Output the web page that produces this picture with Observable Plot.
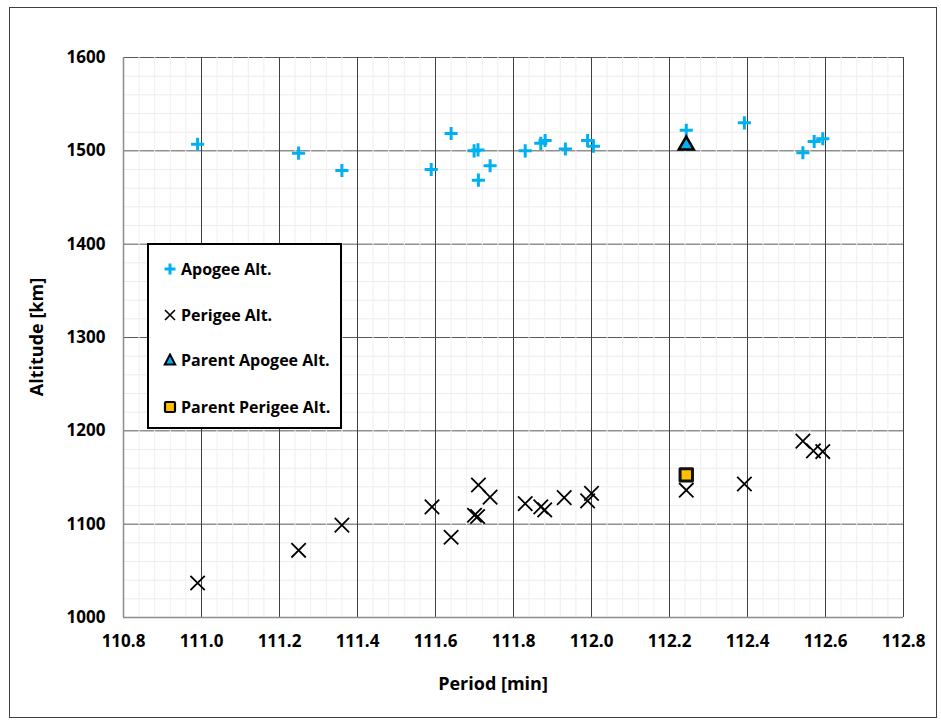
<!DOCTYPE html>
<html>
<head>
<meta charset="utf-8">
<script src="https://cdn.jsdelivr.net/npm/d3@7"></script>
<script src="https://cdn.jsdelivr.net/npm/@observablehq/plot@0.6"></script>
<style>
  html, body { margin: 0; padding: 0; background: #fff; }
  #wrap { position: relative; width: 941px; height: 724px; overflow: hidden; font-family: "Open Sans", sans-serif; font-weight: 700; color: #000; }
  #border { position: absolute; left: 9px; top: 7px; width: 928px; height: 711px; border: 1px solid #404040; box-sizing: border-box; pointer-events: none; }
  .title { position: absolute; font-size: 18px; font-weight: 700; white-space: nowrap; }
  #legend { position: absolute; left: 147px; top: 243px; width: 195px; height: 186px; border: 2px solid #000; box-sizing: border-box; background: #fff; }
  .item { position: absolute; left: 14px; height: 20px; display: flex; align-items: center; font-size: 16px; white-space: nowrap; }
  .item svg { margin-right: 4px; }
</style>
</head>
<body>
<div id="wrap">
  <div id="chart"></div>
  <div id="border"></div>
  <div class="title" id="ytitle" style="left:36px; top:337px; transform: translate(-50%,-50%) rotate(-90deg);">Altitude [km]</div>
  <div class="title" id="xtitle" style="left:493px; top:683px; transform: translate(-50%,-50%);">Period [min]</div>
  <div id="legend"></div>
</div>
<script>
// ---- data ----
const apogeePeriod = [110.990, 111.249, 111.360, 111.589, 111.640, 111.699, 111.709, 111.710, 111.740, 111.830, 111.870, 111.881, 111.933, 111.990, 112.005, 112.243, 112.392, 112.542, 112.571, 112.593];
const apogeeAlt    = [1507, 1497.5, 1479, 1480, 1518.5, 1500, 1501, 1468.6, 1484, 1500, 1508, 1511, 1502, 1511, 1505, 1522, 1530, 1498, 1510, 1513];
const perigeePeriod = [110.990, 111.249, 111.360, 111.591, 111.640, 111.700, 111.708, 111.710, 111.740, 111.830, 111.870, 111.880, 111.930, 111.990, 112.000, 112.243, 112.392, 112.542, 112.569, 112.593];
const perigeeAlt    = [1037, 1072, 1099, 1118.5, 1086, 1109.6, 1108.2, 1142, 1129, 1122, 1118.5, 1115.3, 1128.5, 1125, 1133, 1136.4, 1143, 1189, 1178.5, 1177.8];
const parentPeriod = [112.243];
const parentApogeeAlt = [1506];
const parentPerigeeAlt = [1152.8];
const xTicks = [110.8, 111.0, 111.2, 111.4, 111.6, 111.8, 112.0, 112.2, 112.4, 112.6, 112.8];
const yTicks = [1000, 1100, 1200, 1300, 1400, 1500, 1600];
const legendLabels = ["Apogee Alt.", "Perigee Alt.", "Parent Apogee Alt.", "Parent Perigee Alt."];

const BLUE = "#00b0f0", ORANGE = "#ffc000";

const apogee = apogeePeriod.map((p, i) => ({period: p, alt: apogeeAlt[i]}));
const perigee = perigeePeriod.map((p, i) => ({period: p, alt: perigeeAlt[i]}));
const parentA = parentPeriod.map((p, i) => ({period: p, alt: parentApogeeAlt[i]}));
const parentP = parentPeriod.map((p, i) => ({period: p, alt: parentPerigeeAlt[i]}));

const xMinor = d3.range(0, 51).map(i => 110.8 + i * 0.04).filter(v => Math.abs(((v - 110.8) / 0.2) - Math.round((v - 110.8) / 0.2)) > 1e-6);
const yMinor = d3.range(1000, 1601, 20).filter(v => v % 100 !== 0);

const chart = Plot.plot({
  width: 941, height: 724,
  marginLeft: 123, marginRight: 38, marginTop: 57, marginBottom: 107,
  x: {domain: [110.8, 112.8], label: null},
  y: {domain: [1000, 1600], label: null},
  style: {fontFamily: "Open Sans", fontSize: "17px", fontWeight: 700, color: "#000", background: "transparent", overflow: "visible"},
  marks: [
    Plot.ruleY(yMinor, {stroke: "#ececec", strokeWidth: 1}),
    Plot.ruleY(yTicks.filter(d => d > 1000), {stroke: "#595959", strokeWidth: 1}),
    Plot.ruleX(xMinor, {stroke: "#efefef", strokeWidth: 1}),
    Plot.ruleX(xTicks.filter(d => d > 110.8), {stroke: "#404040", strokeWidth: 1}),
    Plot.ruleX([110.8], {stroke: "#8c8c8c", strokeWidth: 1.5}),
    Plot.ruleY([1000], {stroke: "#8c8c8c", strokeWidth: 1.5}),
    Plot.axisX({ticks: xTicks, tickFormat: d3.format(".1f"), tickSize: 0, tickPadding: 17, label: null, fill: "#000"}),
    Plot.axisY({ticks: yTicks, tickFormat: d => String(d), tickSize: 0, tickPadding: 18, label: null, fill: "#000"}),
    Plot.dot(perigee, {x: "period", y: "alt", symbol: "times", r: 6.6, stroke: "#000", strokeWidth: 1.8, fill: "none"}),
    Plot.dot(apogee, {x: "period", y: "alt", symbol: "plus", r: 4.3, stroke: BLUE, strokeWidth: 3, fill: "none"}),
    Plot.dot(parentA, {x: "period", y: "alt", symbol: "triangle", r: 5.6, fill: BLUE, stroke: "#000", strokeWidth: 2.5, strokeLinejoin: "miter"}),
    Plot.dot(parentP, {x: "period", y: "alt", symbol: "square", r: 7, fill: ORANGE, stroke: "#111", strokeWidth: 3, strokeLinejoin: "round"})
  ]
});
document.getElementById("chart").appendChild(chart);

// ---- legend ----
const legendMarkers = [
  `<svg width="14" height="14" viewBox="-7 -7 14 14"><path d="M-5.5,0H5.5M0,-5.5V5.5" stroke="${BLUE}" stroke-width="3" fill="none"/></svg>`,
  `<svg width="14" height="14" viewBox="-7 -7 14 14"><path d="M-5,-5L5,5M-5,5L5,-5" stroke="#000" stroke-width="1.6" fill="none"/></svg>`,
  `<svg width="14" height="14" viewBox="-7 -7 14 14"><path d="M0,-5.5L5.2,4.5H-5.2Z" stroke="#000" stroke-width="2" fill="${BLUE}"/></svg>`,
  `<svg width="14" height="14" viewBox="-7 -7 14 14"><rect x="-5" y="-5" width="10" height="10" stroke="#000" stroke-width="2.2" fill="${ORANGE}" rx="1"/></svg>`
];
const rowTops = [14, 60, 105, 152];
const leg = document.getElementById("legend");
legendLabels.forEach((lab, i) => {
  const el = document.createElement("div");
  el.className = "item";
  el.style.top = rowTops[i] + "px";
  el.innerHTML = legendMarkers[i] + `<span>${lab}</span>`;
  leg.appendChild(el);
});
</script>
</body>
</html>
